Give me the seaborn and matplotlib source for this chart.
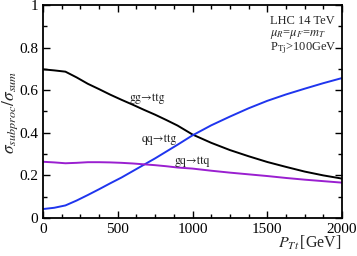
import matplotlib
matplotlib.use("Agg")
import matplotlib.pyplot as plt
import seaborn as sns
import pandas as pd
from matplotlib.ticker import MultipleLocator, FormatStrFormatter

pt = [0, 75, 150, 225, 300, 375, 450, 525, 600, 675, 750, 825, 900, 1000,
      1125, 1250, 1375, 1500, 1625, 1750, 1875, 2000]
gg_ttg = [0.698, 0.693, 0.687, 0.660, 0.630, 0.605, 0.579, 0.555, 0.532, 0.508, 0.485, 0.460, 0.434, 0.392,
          0.353, 0.319, 0.290, 0.263, 0.240, 0.218, 0.200, 0.185]
qq_ttg = [0.042, 0.048, 0.059, 0.082, 0.108, 0.135, 0.163, 0.190, 0.220, 0.250, 0.280, 0.312, 0.344, 0.388,
          0.435, 0.476, 0.515, 0.550, 0.580, 0.607, 0.633, 0.657]
gq_ttq = [0.264, 0.261, 0.257, 0.259, 0.262, 0.262, 0.261, 0.259, 0.256, 0.252, 0.248, 0.243, 0.237, 0.232,
          0.222, 0.213, 0.205, 0.197, 0.188, 0.180, 0.173, 0.166]

sns.set_style("ticks")
plt.rcParams['font.family'] = ['Liberation Serif', 'DejaVu Serif']
plt.rcParams['mathtext.fontset'] = 'stix'

fig = plt.figure(figsize=(3.57, 2.56), dpi=100)
ax = fig.add_axes([43/357, 1-218/256, 299/357, 213/256])

df = pd.DataFrame({'pt': pt * 3,
                   'frac': gg_ttg + qq_ttg + gq_ttq,
                   'proc': ['gg'] * len(pt) + ['qq'] * len(pt) + ['gq'] * len(pt)})
sns.lineplot(data=df, x='pt', y='frac', hue='proc',
             palette={'gg': 'black', 'qq': '#1f35ee', 'gq': '#9a1fd0'},
             linewidth=1.4, legend=False, ax=ax)

ax.set_xlim(0, 2000)
ax.set_ylim(0, 1)
ax.xaxis.set_major_locator(MultipleLocator(500))
ax.xaxis.set_minor_locator(MultipleLocator(125))
ax.yaxis.set_major_locator(MultipleLocator(0.2))
ax.yaxis.set_minor_locator(MultipleLocator(0.1))
ax.yaxis.set_major_formatter(FormatStrFormatter('%g'))
ax.tick_params(which='both', direction='in', top=True, right=True, labelsize=11, width=1, colors='black')
ax.tick_params(which='major', length=5)
ax.tick_params(which='minor', length=3)
for s in ax.spines.values():
    s.set_linewidth(1.3)
    s.set_color('black')

ax.set_xlabel('')
ax.set_ylabel('')
fig.text(310/357, 1-243/256, r'$P_{Tt}\,$[GeV]', fontsize=11.5, ha='center', va='center')
fig.text(10/357, 1-112/256, r'$\sigma_{subproc}/\sigma_{sum}$', fontsize=12.5, ha='center', va='center', rotation=90)

lab_fam = ['STIXGeneral', 'Liberation Serif', 'DejaVu Serif']
ax.text(582, 0.563, 'gg→ttg', fontsize=8.5, ha='left', va='center', family=lab_fam)
ax.text(662, 0.371, 'qq→ttg', fontsize=8.5, ha='left', va='center', family=lab_fam)
ax.text(883, 0.268, 'gq→ttq', fontsize=8.5, ha='left', va='center', family=lab_fam)

ax.text(1520, 0.925, 'LHC 14 TeV', fontsize=9, ha='left', va='center')
ax.text(1520, 0.862, r'$\mu_R$=$\mu_F$=$m_T$', fontsize=9, ha='left', va='center')
ax.text(1520, 0.797, r'P$_{\mathrm{Tj}}$>100GeV', fontsize=9, ha='left', va='center')

fig.savefig('out.png', dpi=100)
